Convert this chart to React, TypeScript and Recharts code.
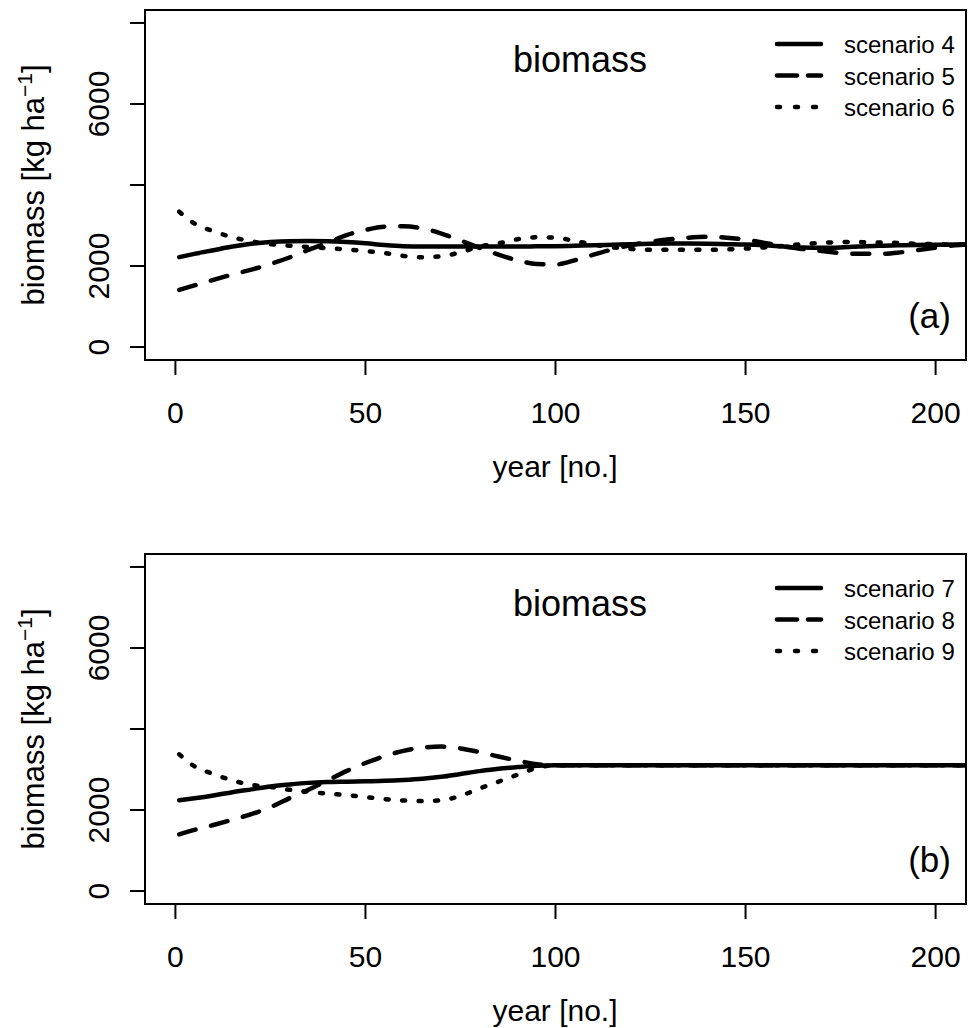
import React from 'react';
import { LineChart, Line, XAxis, YAxis, ReferenceArea, Customized } from 'recharts';

const YEARS = [1, 5, 10, 15, 20, 25, 30, 35, 40, 45, 50, 55, 60, 65, 70, 75, 80, 85, 90, 95, 100, 105, 110, 115, 120, 125, 130, 135, 140, 145, 150, 155, 160, 165, 170, 175, 180, 185, 190, 195, 200, 205, 210];

// panel (a)
const S4 = [2220, 2300, 2390, 2480, 2550, 2590, 2610, 2615, 2610, 2590, 2560, 2520, 2490, 2480, 2480, 2480, 2480, 2480, 2480, 2485, 2490, 2500, 2510, 2525, 2540, 2550, 2555, 2555, 2550, 2540, 2530, 2510, 2480, 2455, 2450, 2460, 2480, 2500, 2510, 2520, 2525, 2530, 2530];
const S5 = [1410, 1520, 1660, 1790, 1910, 2050, 2210, 2400, 2570, 2760, 2890, 2970, 2980, 2930, 2800, 2630, 2450, 2280, 2140, 2050, 2040, 2140, 2280, 2410, 2520, 2600, 2660, 2700, 2720, 2700, 2650, 2570, 2490, 2420, 2370, 2320, 2300, 2300, 2330, 2390, 2450, 2510, 2540];
const S6 = [3340, 3050, 2860, 2710, 2610, 2540, 2500, 2470, 2440, 2410, 2370, 2320, 2250, 2215, 2240, 2340, 2480, 2560, 2660, 2710, 2700, 2620, 2530, 2460, 2420, 2400, 2400, 2400, 2400, 2410, 2430, 2460, 2500, 2540, 2570, 2590, 2590, 2580, 2570, 2550, 2540, 2530, 2530];

// panel (b)
const S7 = [2240, 2290, 2360, 2440, 2510, 2580, 2630, 2670, 2690, 2700, 2710, 2720, 2740, 2770, 2820, 2890, 2960, 3020, 3060, 3095, 3104, 3104, 3104, 3104, 3104, 3104, 3104, 3104, 3104, 3104, 3104, 3104, 3104, 3104, 3104, 3104, 3104, 3104, 3104, 3104, 3104, 3104, 3104];
const S8 = [1400, 1510, 1630, 1760, 1900, 2070, 2290, 2500, 2730, 2960, 3160, 3330, 3460, 3540, 3565, 3520, 3430, 3320, 3220, 3130, 3104, 3104, 3104, 3104, 3104, 3104, 3104, 3104, 3104, 3104, 3104, 3104, 3104, 3104, 3104, 3104, 3104, 3104, 3104, 3104, 3104, 3104, 3104];
const S9 = [3375, 3080, 2890, 2730, 2620, 2570, 2500, 2450, 2405, 2370, 2320, 2270, 2235, 2220, 2240, 2350, 2530, 2700, 2870, 3040, 3104, 3104, 3104, 3104, 3104, 3104, 3104, 3104, 3104, 3104, 3104, 3104, 3104, 3104, 3104, 3104, 3104, 3104, 3104, 3104, 3104, 3104, 3104];

const X_TICKS = [0, 50, 100, 150, 200];
const Y_TICKS = [0, 2000, 4000, 6000, 8000];
const Y_LABELED = [0, 2000, 6000];

const FONT = '"Liberation Sans", Arial, Helvetica, sans-serif';
const DASHES: Record<string, string | undefined> = {
  solid: undefined,
  dashed: '17 16',
  dotted: '3 13.5',
};

type SeriesDef = { key: string; name: string; style: 'solid' | 'dashed' | 'dotted' };

const build = (a: number[], b: number[], c: number[]) =>
  YEARS.map((y, i) => ({ year: y, s1: a[i], s2: b[i], s3: c[i] }));

const dataA = build(S4, S5, S6);
const dataB = build(S7, S8, S9);

const seriesA: SeriesDef[] = [
  { key: 's1', name: 'scenario 4', style: 'solid' },
  { key: 's2', name: 'scenario 5', style: 'dashed' },
  { key: 's3', name: 'scenario 6', style: 'dotted' },
];
const seriesB: SeriesDef[] = [
  { key: 's1', name: 'scenario 7', style: 'solid' },
  { key: 's2', name: 'scenario 8', style: 'dashed' },
  { key: 's3', name: 'scenario 9', style: 'dotted' },
];

const XTick = (props: any) => {
  const { x, payload } = props;
  return (
    <text x={x} y={423} textAnchor="middle" fontSize={30} fontFamily={FONT} fill="#000">
      {payload.value}
    </text>
  );
};

const YTick = (props: any) => {
  const { y, payload } = props;
  if (!Y_LABELED.includes(payload.value)) return <g />;
  return (
    <text
      transform={`translate(109, ${y}) rotate(-90)`}
      x={0}
      y={0}
      textAnchor="middle"
      fontSize={30}
      fontFamily={FONT}
      fill="#000"
    >
      {payload.value}
    </text>
  );
};

const Overlay = ({ series, tag }: { series: SeriesDef[]; tag: string }) => (
  <g fontFamily={FONT} fill="#000">
    <text x={580} y={72} textAnchor="middle" fontSize={36}>biomass</text>
    <text x={951} y={328} textAnchor="end" fontSize={35}>{tag}</text>
    {series.map((s, i) => {
      const cy = 44 + i * 31.5;
      return (
        <g key={s.key}>
          <line
            x1={777}
            x2={821}
            y1={cy}
            y2={cy}
            stroke="#000"
            strokeWidth={4.5}
            strokeLinecap="round"
            strokeDasharray={s.style === 'dotted' ? '3 15' : s.style === 'dashed' ? '20 11' : undefined}
          />
          <text x={844} y={cy + 9} fontSize={24}>{s.name}</text>
        </g>
      );
    })}
    <text x={555} y={477} textAnchor="middle" fontSize={30}>year [no.]</text>
    <text transform="translate(44, 185) rotate(-90)" x={0} y={0} textAnchor="middle" fontSize={31}>
      biomass [kg ha<tspan dy={-12} fontSize={21}>−1</tspan><tspan dy={12}>]</tspan>
    </text>
  </g>
);

const Panel = ({ data, series, tag, height, xAxisHeight }: { data: any[]; series: SeriesDef[]; tag: string; height: number; xAxisHeight: number }) => (
  <LineChart width={972} height={height} data={data} margin={{ top: 10, right: 6, left: 0, bottom: 0 }}>
    <XAxis
      dataKey="year"
      type="number"
      domain={[-8, 208]}
      allowDataOverflow
      ticks={X_TICKS}
      interval={0}
      height={xAxisHeight}
      axisLine={false}
      tickSize={15}
      tickLine={{ stroke: '#000', strokeWidth: 2 }}
      tick={<XTick />}
    />
    <YAxis
      type="number"
      domain={[-320, 8320]}
      allowDataOverflow
      ticks={Y_TICKS}
      interval={0}
      width={145}
      axisLine={false}
      tickSize={15}
      tickLine={{ stroke: '#000', strokeWidth: 2 }}
      tick={<YTick />}
    />
    {series.map((s) => (
      <Line
        key={s.key}
        dataKey={s.key}
        name={s.name}
        type="monotone"
        stroke="#000"
        strokeWidth={4.5}
        strokeLinecap="round"
        strokeDasharray={DASHES[s.style]}
        dot={false}
        activeDot={false}
        isAnimationActive={false}
      />
    ))}
    <ReferenceArea x1={-8} x2={208} y1={-320} y2={8320} fill="none" stroke="#000" strokeWidth={2} ifOverflow="visible" />
    <Customized component={() => <Overlay series={series} tag={tag} />} />
  </LineChart>
);

export default function App() {
  return (
    <div style={{ position: 'absolute', left: 0, top: 0, width: 972, height: 1028, overflow: 'hidden', background: '#fff' }}>
      <div style={{ height: 544 }}>
        <Panel data={dataA} series={seriesA} tag="(a)" height={544} xAxisHeight={184} />
      </div>
      <div style={{ height: 484 }}>
        <Panel data={dataB} series={seriesB} tag="(b)" height={484} xAxisHeight={124} />
      </div>
    </div>
  );
}
